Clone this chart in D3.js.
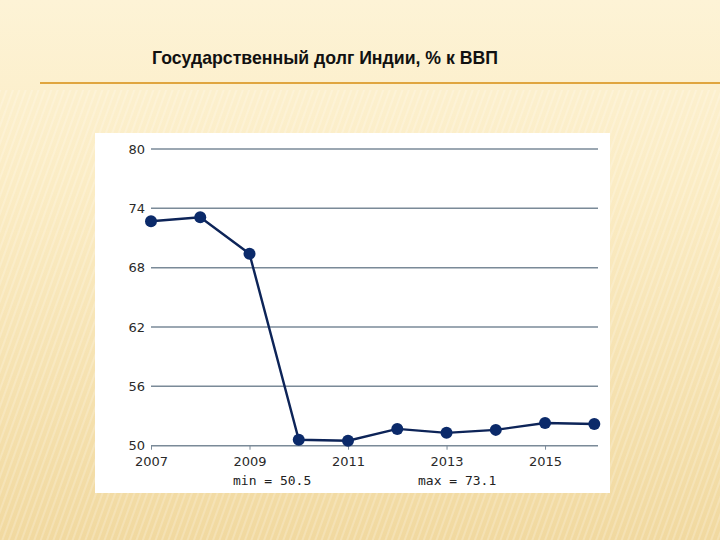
<!DOCTYPE html>
<html><head><meta charset="utf-8">
<script src="https://cdn.jsdelivr.net/npm/d3@7"></script>
<style>html,body{margin:0;padding:0;overflow:hidden}svg{display:block}</style>
</head><body>
<svg id="c" width="720" height="540"></svg>
<script>
const title = "Государственный долг Индии, % к ВВП";
const years = [2007, 2008, 2009, 2010, 2011, 2012, 2013, 2014, 2015, 2016];
const debt = [72.7, 73.1, 69.4, 50.6, 50.5, 51.7, 51.3, 51.6, 52.3, 52.2];
const yTicks = [50, 56, 62, 68, 74, 80];
const xTicks = [2007, 2009, 2011, 2013, 2015];
const minLabel = "min = 50.5";
const maxLabel = "max = 73.1";

const svg = d3.select("#c");
const defs = svg.append("defs");
const g1 = defs.append("linearGradient").attr("id","bg").attr("x1",0).attr("y1",0).attr("x2",0).attr("y2",1);
g1.append("stop").attr("offset","0%").attr("stop-color","#fdf3d6");
g1.append("stop").attr("offset","35%").attr("stop-color","#fbecc4");
g1.append("stop").attr("offset","100%").attr("stop-color","#f1d9a0");
const pat = defs.append("pattern").attr("id","stripes").attr("patternUnits","userSpaceOnUse")
  .attr("width",6).attr("height",6).attr("patternTransform","rotate(20)");
pat.append("rect").attr("width",2).attr("height",6).attr("fill","#ffffff").attr("opacity",0.2);
svg.append("rect").attr("width",720).attr("height",540).attr("fill","url(#bg)");
svg.append("rect").attr("y",90).attr("width",720).attr("height",450).attr("fill","url(#stripes)");

svg.append("text").attr("x",152).attr("y",64).attr("font-family","Liberation Sans, Arial, sans-serif")
  .attr("font-weight","bold").attr("font-size",17.7).attr("fill","#111").text(title);
svg.append("line").attr("x1",40).attr("x2",720).attr("y1",83).attr("y2",83)
  .attr("stroke","#e0a53e").attr("stroke-width",2);

svg.append("rect").attr("x",95).attr("y",133).attr("width",515).attr("height",360).attr("fill","#ffffff");

const x = d3.scaleLinear().domain([2007, 2016]).range([151, 594.3]);
const y = d3.scaleLinear().domain([50, 80]).range([445.7, 149]);
const font = "DejaVu Sans, Verdana, sans-serif";

const grid = svg.append("g");
grid.selectAll("line").data(yTicks).join("line")
  .attr("x1",151).attr("x2",598).attr("y1",d=>y(d)).attr("y2",d=>y(d))
  .attr("stroke","#7a8a98").attr("stroke-width",1.5);

const yAxis = svg.append("g").attr("transform","translate(151,0)")
  .call(d3.axisLeft(y).tickValues(yTicks).tickSize(0).tickPadding(6));
yAxis.select(".domain").remove();
yAxis.selectAll("text").attr("font-family",font).attr("font-size",13).attr("fill","#2a2a2a");

const xAxis = svg.append("g").attr("transform",`translate(0,${y(50)})`)
  .call(d3.axisBottom(x).tickValues(xTicks).tickFormat(d3.format("d")).tickSize(4).tickPadding(7));
xAxis.select(".domain").remove();
xAxis.selectAll("line").attr("stroke","#7a8a98");
xAxis.selectAll("text").attr("font-family",font).attr("font-size",13).attr("fill","#2a2a2a");

const pts = years.map((yr,i)=>[yr, debt[i]]);
svg.append("path").datum(pts)
  .attr("d", d3.line().x(d=>x(d[0])).y(d=>y(d[1])))
  .attr("fill","none").attr("stroke","#0d2458").attr("stroke-width",2.4);
svg.append("g").selectAll("circle").data(pts).join("circle")
  .attr("cx",d=>x(d[0])).attr("cy",d=>y(d[1])).attr("r",6).attr("fill","#0b2a6a");

const mono = "DejaVu Sans Mono, Liberation Mono, monospace";
svg.append("text").attr("x",233).attr("y",485).attr("font-family",mono).attr("font-size",13).attr("fill","#222").text(minLabel);
svg.append("text").attr("x",418).attr("y",485).attr("font-family",mono).attr("font-size",13).attr("fill","#222").text(maxLabel);
</script>
</body></html>
